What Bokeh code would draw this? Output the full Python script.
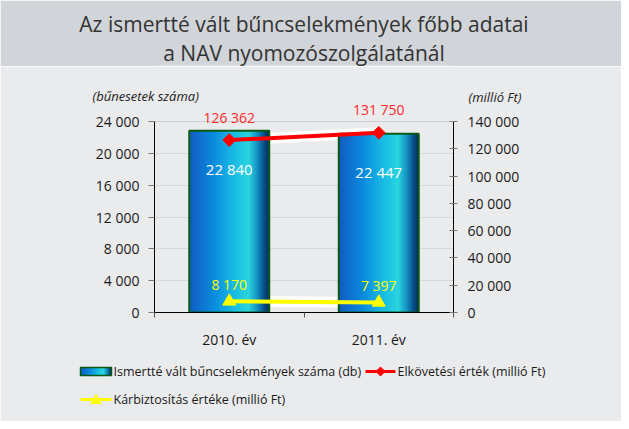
import math
from bokeh.plotting import figure
from bokeh.models import (Range1d, LinearAxis, FixedTicker, ColumnDataSource, Span, Title)
from bokeh.layouts import column
from bokeh.embed import file_html
from bokeh.resources import INLINE
from bokeh.core.properties import value

# ---------------- data ----------------
years = ["2010. év", "2011. év"]
cases = [22840, 22447]                 # left axis (db)
offence_value = [126362, 131750]       # right axis (millió Ft)
recovery_value = [8170, 7397]          # right axis (millió Ft)
left_ticks = [0, 4000, 8000, 12000, 16000, 20000, 24000]
right_ticks = [0, 20000, 40000, 60000, 80000, 100000, 120000, 140000]
title_lines = ["Az ismertté vált bűncselekmények főbb adatai",
               "a NAV nyomozószolgálatánál"]
left_title = "(bűnesetek száma)"
right_title = "(millió Ft)"
legend_labels = ["Ismertté vált  bűncselekmények száma (db)",
                 "Elkövetési érték (millió Ft)",
                 "Kárbiztosítás értéke  (millió Ft)"]


def fmt(v):
    return f"{v:,}".replace(",", " ")


FONT = "Open Sans"
BAND = "#d1d4d8"
BG = "#eaebed"
W = 621

# ---------------- title band ----------------
TH = 66
tf = figure(width=W, height=TH, x_range=Range1d(0, 1), y_range=Range1d(0, 1),
            output_backend="svg", toolbar_location=None,
            x_axis_location=None, y_axis_location=None,
            min_border_top=TH - 1, min_border_bottom=0, min_border_left=0, min_border_right=0,
            background_fill_color=BAND, border_fill_color=BAND, outline_line_color=None)
tf.grid.grid_line_color = None
for t, so in zip(reversed(title_lines), [-2, 0]):
    tf.add_layout(Title(text=t, align="center", text_font=FONT, text_font_size="21px",
                        text_font_style="normal", text_color="#333333", standoff=so), "above")

# ---------------- main chart ----------------
MH = 421 - TH
BL, BR, BT, BB = 154, 168, 55, 109
FRAME_W = W - BL - BR
FRAME_H = MH - BT - BB
ncat = len(years)
xs = [i + 0.5 for i in range(ncat)]

p = figure(width=W, height=MH, x_range=Range1d(0, ncat), y_range=Range1d(0, left_ticks[-1]),
           output_backend="svg", toolbar_location=None,
           min_border_left=BL, min_border_right=BR, min_border_top=BT, min_border_bottom=BB,
           background_fill_color=BG, border_fill_color=BG, outline_line_color=None)
p.extra_y_ranges = {"right": Range1d(0, right_ticks[-1])}


def fx(dx):  # pixel offset from frame left -> x data
    return dx / FRAME_W * ncat


def fy(dy):  # pixel offset from frame bottom -> right-axis data
    return dy / FRAME_H * right_ticks[-1]


# grid
p.xgrid.visible = False
p.ygrid.ticker = FixedTicker(ticks=left_ticks)
p.ygrid.grid_line_color = "#d6d7da"
p.add_layout(Span(location=left_ticks[-1], dimension="width", line_color="#a8a8a8", line_width=1))

# left axis
ya = p.left[0]
ya.ticker = FixedTicker(ticks=left_ticks)
ya.major_label_overrides = {t: fmt(t) for t in left_ticks}
ya.major_tick_out = 6
ya.major_tick_in = 0
ya.minor_tick_out = 0
ya.minor_tick_in = 0
ya.major_tick_line_color = "#777777"
ya.axis_line_color = "#000000"
ya.major_label_standoff = 9
ya.major_label_text_font = FONT
ya.major_label_text_font_size = "14px"
ya.major_label_text_color = "#1a1a1a"

# right axis
ra = LinearAxis(y_range_name="right", ticker=FixedTicker(ticks=right_ticks))
ra.major_label_overrides = {t: fmt(t) for t in right_ticks}
ra.major_tick_out = 4
ra.major_tick_in = 4
ra.minor_tick_out = 0
ra.minor_tick_in = 0
ra.major_tick_line_color = "#777777"
ra.axis_line_color = "#000000"
ra.major_label_standoff = 10
ra.major_label_text_font = FONT
ra.major_label_text_font_size = "14px"
ra.major_label_text_color = "#1a1a1a"
p.add_layout(ra, "right")

# x axis
xa = p.below[0]
xa.ticker = FixedTicker(ticks=xs, minor_ticks=list(range(ncat + 1)))
xa.major_label_overrides = {x: y for x, y in zip(xs, years)}
xa.major_tick_out = 0
xa.major_tick_in = 0
xa.minor_tick_out = 5
xa.minor_tick_in = 0
xa.minor_tick_line_color = "#555555"
xa.axis_line_color = "#000000"
xa.major_label_standoff = 12
xa.major_label_text_font = FONT
xa.major_label_text_font_size = "14px"
xa.major_label_text_color = "#1a1a1a"

# white halos behind lines (visible only between bars)
p.line(xs, offence_value, y_range_name="right", line_color="white", line_width=11, line_alpha=0.95)
p.line(xs, recovery_value, y_range_name="right", line_color="white", line_width=11, line_alpha=0.95)

# gradient bars: overlapping strips, each from its left boundary to the bar's right edge
bar_w = 0.535
stops = [(0.0, (18, 92, 192)), (0.3, (10, 138, 222)), (0.55, (24, 186, 228)),
         (0.74, (42, 213, 222)), (0.84, (22, 152, 198)), (0.93, (8, 82, 140)), (1.0, (5, 42, 92))]


def grad(f):
    for (f0, c0), (f1, c1) in zip(stops[:-1], stops[1:]):
        if f0 <= f <= f1:
            t = (f - f0) / (f1 - f0)
            return "#%02x%02x%02x" % tuple(int(round(a + (b - a) * t)) for a, b in zip(c0, c1))
    return "#%02x%02x%02x" % stops[-1][1]


N = 60
for k in range(N):
    f0 = k / N
    col = grad((k + 0.5) / N)
    wk = bar_w * (1 - f0)
    src = ColumnDataSource(dict(x=[c + bar_w / 2 - wk / 2 for c in xs], top=cases))
    p.vbar(x="x", top="top", width=wk, bottom=0, source=src,
           fill_color=col, line_color=None)
p.vbar(x=xs, top=cases, width=bar_w, bottom=0, fill_color=None,
       line_color="#0b5a12", line_width=2)

# lines
p.line(xs, offence_value, y_range_name="right", line_color="#ff0000", line_width=4)
p.scatter(xs, offence_value, y_range_name="right", marker="square", angle=math.pi / 4,
          size=9, fill_color="#ff0000", line_color="#ff0000")
p.line(xs, recovery_value, y_range_name="right", line_color="#ffff00", line_width=4)
p.scatter(xs, recovery_value, y_range_name="right", marker="triangle",
          size=13, fill_color="#ffff00", line_color="#ffff00")

# value labels (overlay level so they may leave the frame)
lab = ColumnDataSource(dict(x=xs, cases=cases, off=offence_value, rec=recovery_value,
                            cases_t=[fmt(v) for v in cases],
                            off_t=[fmt(v) for v in offence_value],
                            rec_t=[fmt(v) for v in recovery_value]))
p.text(x="x", y="off", text="off_t", source=lab, y_range_name="right", y_offset=-23,
       text_align="center", text_baseline="middle", text_font=value(FONT),
       text_font_size="14px", text_color="#ff2a2a", level="overlay")
p.text(x="x", y="cases", text="cases_t", source=lab, y_offset=38,
       text_align="center", text_baseline="middle", text_font=value(FONT),
       text_font_size="15px", text_color="#ffffff", level="overlay")
p.text(x="x", y="rec", text="rec_t", source=lab, y_range_name="right", y_offset=-17,
       text_align="center", text_baseline="middle", text_font=value(FONT),
       text_font_size="14px", text_color="#ffff00", level="overlay")

# axis titles, anchored to the top corners of the axes
p.text(x=[0], y=[left_ticks[-1]], text=[left_title], x_offset=-62, y_offset=-26,
       text_align="left", text_baseline="middle", text_font=value(FONT),
       text_font_size="13px", text_font_style="italic", text_color="#222222", level="overlay")
p.text(x=[ncat], y=[left_ticks[-1]], text=[right_title], x_offset=15, y_offset=-25,
       text_align="left", text_baseline="middle", text_font=value(FONT),
       text_font_size="13px", text_font_style="italic", text_color="#222222", level="overlay")

# ---------------- legend (drawn below the plot area) ----------------
ROW1, ROW2 = -59, -87          # px below frame bottom
SW0, SW1 = -74, -43            # swatch span, px from frame left
SW2, SW3 = 211, 241            # second-column swatch span
NL = 16
for k in range(NL):
    f0 = k / NL
    col = grad((k + 0.5) / NL)
    p.quad(left=[fx(SW0 + f0 * (SW1 - SW0))], right=[fx(SW1)],
           bottom=[fy(ROW1 - 4)], top=[fy(ROW1 + 4)], y_range_name="right",
           fill_color=col, line_color=None, level="overlay")
p.quad(left=[fx(SW0)], right=[fx(SW1)], bottom=[fy(ROW1 - 4)], top=[fy(ROW1 + 4)],
       y_range_name="right", fill_color=None, line_color="#0b5a12", line_width=1.5, level="overlay")
# red swatch: line + diamond
p.line([fx(SW2), fx(SW3)], [fy(ROW1)] * 2, y_range_name="right", line_color="#ff0000",
       line_width=3, level="overlay")
cx = (SW2 + SW3) / 2
p.patch([fx(cx), fx(cx + 4.5), fx(cx), fx(cx - 4.5)],
        [fy(ROW1 + 4.5), fy(ROW1), fy(ROW1 - 4.5), fy(ROW1)], y_range_name="right",
        fill_color="#ff0000", line_color="#ff0000", level="overlay")
# yellow swatch: line + triangle
p.line([fx(SW0), fx(SW1)], [fy(ROW2)] * 2, y_range_name="right", line_color="#ffff00",
       line_width=3, level="overlay")
cx = (SW0 + SW1) / 2
p.patch([fx(cx - 5), fx(cx + 5), fx(cx)],
        [fy(ROW2 - 4), fy(ROW2 - 4), fy(ROW2 + 5)], y_range_name="right",
        fill_color="#ffff00", line_color="#ffff00", level="overlay")
for txt, dx, dy in zip(legend_labels, [SW1 + 2, SW3 + 2, SW1 + 2], [ROW1, ROW1, ROW2]):
    p.text(x=[0], y=[0], text=[txt], x_offset=dx, y_offset=-dy,
           text_align="left", text_baseline="middle", text_font=value(FONT),
           text_font_size="12.5px", text_color="#1a1a1a", level="overlay")

layout = column(tf, p, spacing=0)
open("out.html", "w").write(file_html(layout, INLINE))
